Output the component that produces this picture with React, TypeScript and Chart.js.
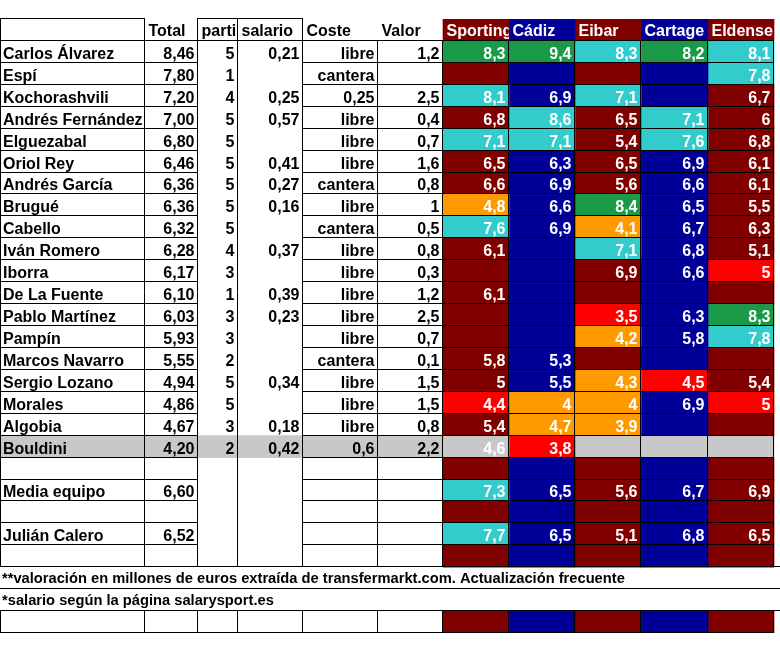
import React, { useEffect, useRef } from 'react';
import { Chart, registerables } from 'chart.js';

Chart.register(...registerables);

// ---------- data ----------
const headerLabels = ['', 'Total', 'parti', 'salario', 'Coste', 'Valor'];
const teams = ['Sporting', 'Cádiz', 'Eibar', 'Cartage', 'Eldense'];

const players = [
  'Carlos Álvarez', 'Espí', 'Kochorashvili', 'Andrés Fernández', 'Elguezabal', 'Oriol Rey',
  'Andrés García', 'Brugué', 'Cabello', 'Iván Romero', 'Iborra', 'De La Fuente',
  'Pablo Martínez', 'Pampín', 'Marcos Navarro', 'Sergio Lozano', 'Morales', 'Algobia', 'Bouldini',
];
const totals = [8.46, 7.8, 7.2, 7.0, 6.8, 6.46, 6.36, 6.36, 6.32, 6.28, 6.17, 6.1, 6.03, 5.93, 5.55, 4.94, 4.86, 4.67, 4.2];
const partidos = [5, 1, 4, 5, 5, 5, 5, 5, 5, 4, 3, 1, 3, 3, 2, 5, 5, 3, 2];
const salarios = [0.21, null, 0.25, 0.57, null, 0.41, 0.27, 0.16, null, 0.37, null, 0.39, 0.23, null, null, 0.34, null, 0.18, 0.42];
const costes = ['libre', 'cantera', '0,25', 'libre', 'libre', 'libre', 'cantera', 'libre', 'cantera', 'libre', 'libre', 'libre', 'libre', 'libre', 'cantera', 'libre', 'libre', 'libre', '0,6'];
const valores = [1.2, null, 2.5, 0.4, 0.7, 1.6, 0.8, 1, 0.5, 0.8, 0.3, 1.2, 2.5, 0.7, 0.1, 1.5, 1.5, 0.8, 2.2];

const sporting = [8.3, null, 8.1, 6.8, 7.1, 6.5, 6.6, 4.8, 7.6, 6.1, null, 6.1, null, null, 5.8, 5, 4.4, 5.4, 4.6];
const cadiz = [9.4, null, 6.9, 8.6, 7.1, 6.3, 6.9, 6.6, 6.9, null, null, null, null, null, 5.3, 5.5, 4, 4.7, 3.8];
const eibar = [8.3, null, 7.1, 6.5, 5.4, 6.5, 5.6, 8.4, 4.1, 7.1, 6.9, null, 3.5, 4.2, null, 4.3, 4, 3.9, null];
const cartagena = [8.2, null, null, 7.1, 7.6, 6.9, 6.6, 6.5, 6.7, 6.8, 6.6, null, 6.3, 5.8, null, 4.5, 6.9, null, null];
const eldense = [8.1, 7.8, 6.7, 6, 6.8, 6.1, 6.1, 5.5, 6.3, 5.1, 5, null, 8.3, 7.8, null, 5.4, 5, null, null];

// rating band shown by each cell's shading: b = team colour, c = cyan, g = green, o = orange, r = red, s = grey (marked row)
const sportingBand = ['g', 'b', 'c', 'b', 'c', 'b', 'b', 'o', 'c', 'b', 'b', 'b', 'b', 'b', 'b', 'b', 'r', 'b', 's'];
const cadizBand = ['g', 'b', 'b', 'c', 'c', 'b', 'b', 'b', 'b', 'b', 'b', 'b', 'b', 'b', 'b', 'b', 'o', 'o', 'r'];
const eibarBand = ['c', 'b', 'c', 'b', 'b', 'b', 'b', 'g', 'o', 'c', 'b', 'b', 'r', 'o', 'b', 'o', 'o', 'o', 's'];
const cartagenaBand = ['g', 'b', 'b', 'c', 'c', 'b', 'b', 'b', 'b', 'b', 'b', 'b', 'b', 'b', 'b', 'r', 'b', 'b', 's'];
const eldenseBand = ['c', 'c', 'b', 'b', 'b', 'b', 'b', 'b', 'b', 'b', 'r', 'b', 'g', 'c', 'b', 'b', 'r', 'b', 's'];

const summaryNames = ['Media equipo', 'Julián Calero'];
const summaryTotals = [6.6, 6.52];
const mediaEquipo = [7.3, 6.5, 5.6, 6.7, 6.9];
const mediaBand = ['c', 'b', 'b', 'b', 'b'];
const julianCalero = [7.7, 6.5, 5.1, 6.8, 6.5];
const julianBand = ['c', 'b', 'b', 'b', 'b'];

const notes = [
  '**valoración en millones de euros extraída de transfermarkt.com. Actualización frecuente',
  '*salario según la página salarysport.es',
];

const markedRow = 18; // Bouldini (grey row)

// ---------- layout / styles ----------
const COL_EDGES = [1, 145, 198, 238, 303, 378, 443, 509, 575, 641, 708, 774];
const RIGHT_EDGE = 780;
const TEAM_BASE = ['#800000', '#000099', '#800000', '#000099', '#800000'];
const BAND_COLOR: Record<string, string> = {
  c: '#33CCCC',
  g: '#1A9A48',
  o: '#FF9900',
  r: '#FF0000',
  s: '#C8C8C8',
};
const FONT = 'bold 16px "Liberation Sans", Arial, sans-serif';
const NOTE_FONT = 'bold 14.7px "Liberation Sans", Arial, sans-serif';

const teamValues = [sporting, cadiz, eibar, cartagena, eldense];
const teamBands = [sportingBand, cadizBand, eibarBand, cartagenaBand, eldenseBand];

type Row =
  | { kind: 'header' }
  | { kind: 'player'; i: number }
  | { kind: 'blank' }
  | { kind: 'summary'; i: number }
  | { kind: 'note'; i: number }
  | { kind: 'last' };

const rows: Row[] = [
  { kind: 'header' },
  ...players.map((_, i) => ({ kind: 'player', i } as Row)),
  { kind: 'blank' },
  { kind: 'summary', i: 0 },
  { kind: 'blank' },
  { kind: 'summary', i: 1 },
  { kind: 'blank' },
  { kind: 'note', i: 0 },
  { kind: 'note', i: 1 },
  { kind: 'last' },
];
const rowKeys = rows.map((_, i) => 'r' + i);

const fmt = (v: number | null, digits?: number) =>
  v == null ? '' : (digits != null ? v.toFixed(digits) : String(v)).replace('.', ',');

function teamCell(row: Row, t: number): { color: string | null; text: string } {
  const base = TEAM_BASE[t];
  if (row.kind === 'header') return { color: base, text: teams[t] };
  if (row.kind === 'player') {
    const band = teamBands[t][row.i];
    return { color: band === 'b' ? base : BAND_COLOR[band], text: fmt(teamValues[t][row.i]) };
  }
  if (row.kind === 'summary') {
    const vals = row.i === 0 ? mediaEquipo : julianCalero;
    const bands = row.i === 0 ? mediaBand : julianBand;
    return { color: bands[t] === 'b' ? base : BAND_COLOR[bands[t]], text: fmt(vals[t]) };
  }
  if (row.kind === 'note') return { color: null, text: '' };
  return { color: base, text: '' };
}

const tablePlugin = {
  id: 'tableText',
  afterDatasetsDraw(chart: any) {
    const ctx: CanvasRenderingContext2D = chart.ctx;
    const xs = chart.scales.x;
    const ys = chart.scales.y;
    const X = (v: number) => xs.getPixelForValue(v);
    const edgeY = (b: number) => ys.getPixelForValue(b - 0.5);
    const crisp = (v: number) => Math.round(v) - 0.5;

    ctx.save();
    ctx.strokeStyle = '#000';
    ctx.lineWidth = 1;
    const hline = (b: number, x0: number, x1: number) => {
      const y = crisp(edgeY(b));
      ctx.beginPath();
      ctx.moveTo(Math.round(X(x0)) - 1, y);
      ctx.lineTo(Math.round(X(x1)), y);
      ctx.stroke();
    };
    const vline = (x: number, b0: number, b1: number) => {
      const px = crisp(X(x));
      ctx.beginPath();
      ctx.moveTo(px, Math.round(edgeY(b0)) - 1);
      ctx.lineTo(px, Math.round(edgeY(b1)));
      ctx.stroke();
    };
    const E = COL_EDGES;
    const n = rows.length;
    // horizontal rules
    hline(0, E[0], E[1]);
    hline(0, E[2], E[4]);
    hline(1, E[0], E[11]);
    for (let b = 2; b <= 24; b++) {
      hline(b, E[0], E[2]);
      hline(b, E[4], E[11]);
    }
    for (let b = 25; b <= 27; b++) hline(b, E[0], RIGHT_EDGE);
    hline(n, E[0], E[11]);
    // vertical rules
    [E[0], E[1], E[2], E[3], E[4]].forEach((x) => {
      vline(x, 0, 25);
      vline(x, 27, 28);
    });
    [E[5], E[6], E[7], E[8], E[9], E[10], E[11]].forEach((x) => {
      vline(x, 1, 25);
      vline(x, 27, 28);
    });

    // text
    const pad = 3.5;
    const left = (txt: string, c: number, b: number, color: string, clip = false) => {
      if (!txt) return;
      ctx.save();
      if (clip) {
        ctx.beginPath();
        ctx.rect(X(E[c]), edgeY(b), X(E[c + 1]) - X(E[c]), edgeY(b + 1) - edgeY(b));
        ctx.clip();
      }
      ctx.fillStyle = color;
      ctx.textAlign = 'left';
      ctx.fillText(txt, X(E[c]) + pad, edgeY(b + 1) - 4.5);
      ctx.restore();
    };
    const right = (txt: string, c: number, b: number, color: string) => {
      if (!txt) return;
      ctx.fillStyle = color;
      ctx.textAlign = 'right';
      ctx.fillText(txt, X(E[c + 1]) - pad, edgeY(b + 1) - 4);
    };
    ctx.font = FONT;
    ctx.textBaseline = 'alphabetic';
    rows.forEach((row, r) => {
      if (row.kind === 'header') {
        headerLabels.forEach((h, c) => left(h, c, r, '#000'));
        teams.forEach((t, k) => left(t, 6 + k, r, '#fff', true));
        return;
      }
      if (row.kind === 'player') {
        const i = row.i;
        ctx.fillStyle = '#000';
        ctx.textAlign = 'left';
        ctx.fillText(players[i], X(E[0]) + 2, edgeY(r + 1) - 4);
        right(fmt(totals[i], 2), 1, r, '#000');
        right(String(partidos[i]), 2, r, '#000');
        right(fmt(salarios[i], 2), 3, r, '#000');
        right(costes[i], 4, r, '#000');
        right(fmt(valores[i]), 5, r, '#000');
      } else if (row.kind === 'summary') {
        ctx.fillStyle = '#000';
        ctx.textAlign = 'left';
        ctx.fillText(summaryNames[row.i], X(E[0]) + 2, edgeY(r + 1) - 4);
        right(fmt(summaryTotals[row.i], 2), 1, r, '#000');
      } else if (row.kind === 'note') {
        ctx.save();
        ctx.font = NOTE_FONT;
        ctx.fillStyle = '#000';
        ctx.textAlign = 'left';
        ctx.fillText(notes[row.i], X(E[0]) + 1, edgeY(r + 1) - 6.5);
        ctx.restore();
      }
      for (let t = 0; t < 5; t++) {
        const cell = teamCell(row, t);
        right(cell.text, 6 + t, r, '#fff');
      }
    });
    ctx.restore();
  },
};

export default function App() {
  const ref = useRef<HTMLCanvasElement | null>(null);
  useEffect(() => {
    if (!ref.current) return;
    const E = COL_EDGES;
    const datasets: any[] = [];
    // grey marked row across the left-hand columns
    datasets.push({
      label: 'marca',
      data: rows.map((_, r) => (r === markedRow + 1 ? [E[0], E[6]] : null)),
      backgroundColor: BAND_COLOR.s,
    });
    teams.forEach((team, t) => {
      const cells = rows.map((row) => teamCell(row, t));
      datasets.push({
        label: team,
        data: cells.map((c) => (c.color ? [E[6 + t], E[7 + t]] : null)),
        backgroundColor: cells.map((c) => c.color || 'rgba(0,0,0,0)'),
      });
    });
    const chart = new Chart(ref.current, {
      type: 'bar',
      data: { labels: rowKeys, datasets },
      options: {
        indexAxis: 'y',
        responsive: false,
        animation: false,
        devicePixelRatio: 1,
        events: [],
        datasets: {
          bar: {
            grouped: false,
            barPercentage: 1,
            categoryPercentage: 1,
            borderWidth: 0,
            borderSkipped: false,
          },
        },
        layout: { padding: { top: 19, bottom: 18, left: 0, right: 0 } },
        scales: {
          x: { type: 'linear', min: 0, max: RIGHT_EDGE, display: false },
          y: { type: 'category', display: false, offset: true },
        },
        plugins: { legend: { display: false }, tooltip: { enabled: false } },
      } as any,
      plugins: [tablePlugin],
    });
    return () => chart.destroy();
  }, []);
  return (
    <div style={{ position: 'fixed', left: 0, top: 0, width: 780, height: 651, background: '#fff' }}>
      <canvas ref={ref} width={780} height={651} style={{ width: 780, height: 651, display: 'block' }} />
    </div>
  );
}
